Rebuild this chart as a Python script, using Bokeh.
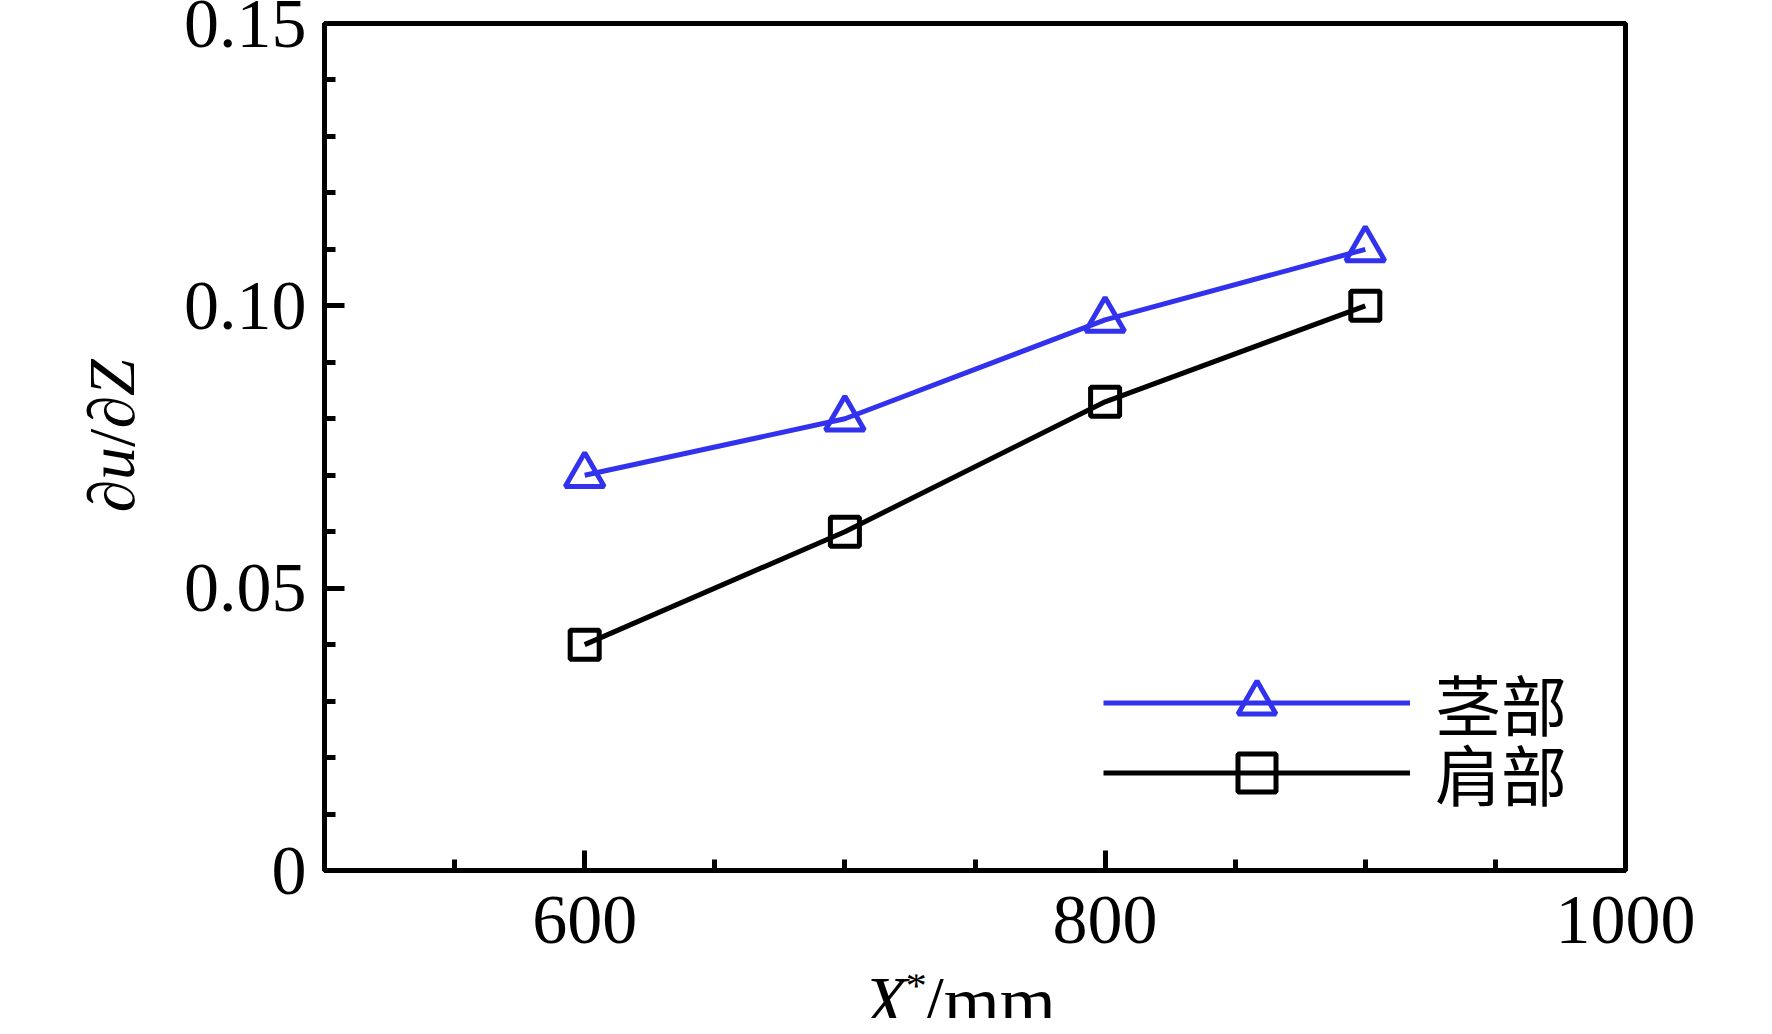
import math
from bokeh.plotting import figure
from bokeh.layouts import row, column
from bokeh.models import Range1d, FixedTicker, Legend, LegendItem
from bokeh.core.properties import value
from bokeh.embed import file_html
from bokeh.resources import INLINE

# data
x_pos = [600, 700, 800, 900]
stem = [0.070, 0.080, 0.0975, 0.110]      # 茎部
shoulder = [0.040, 0.060, 0.083, 0.100]   # 肩部
x_major = [600, 800, 1000]
x_minor = [550, 600, 650, 700, 750, 800, 850, 900, 950]
y_major = [0, 0.05, 0.10, 0.15]
y_minor = [0.01 * i for i in range(0, 16)]
y_labels = {0: "0", 0.05: "0.05", 0.1: "0.10", 0.15: "0.15"}
series_names = ["茎部", "肩部"]

BLUE = "#3232EE"
SERIF = "Liberation Serif"
CJK = "Noto Sans CJK SC"

TOTAL_H = 1018
YT_W = 180            # left strip holding the y title
MAIN_W = 1576
MAIN_H = 974
XT_H = TOTAL_H - MAIN_H

p = figure(width=MAIN_W, height=MAIN_H, output_backend="svg", toolbar_location=None,
           x_range=Range1d(500, 1000), y_range=Range1d(0, 0.15),
           min_border_left=144, min_border_right=131, min_border_top=23, min_border_bottom=104)
p.xgrid.visible = False
p.ygrid.visible = False
p.outline_line_color = "black"
p.outline_line_width = 5
p.background_fill_color = "white"
p.border_fill_color = "white"

for ax in (p.xaxis[0], p.yaxis[0]):
    ax.axis_line_width = 5
    ax.axis_line_color = "black"
    ax.major_tick_in = 20
    ax.major_tick_out = 0
    ax.minor_tick_in = 11
    ax.minor_tick_out = 0
    ax.major_tick_line_width = 5
    ax.minor_tick_line_width = 5
    ax.major_tick_line_color = "black"
    ax.minor_tick_line_color = "black"
    ax.major_label_text_font = SERIF
    ax.major_label_text_font_size = "70px"
    ax.major_label_text_color = "black"

p.xaxis[0].ticker = FixedTicker(ticks=x_major, minor_ticks=x_minor)
p.yaxis[0].ticker = FixedTicker(ticks=y_major, minor_ticks=y_minor)
p.yaxis[0].major_label_overrides = y_labels
p.xaxis[0].major_label_standoff = 26
p.yaxis[0].major_label_standoff = 18

l1 = p.line(x_pos, stem, line_color=BLUE, line_width=5)
s1 = p.scatter(x_pos, stem, marker="triangle", size=39, line_color=BLUE, line_width=5, fill_color=None)
l2 = p.line(x_pos, shoulder, line_color="black", line_width=5)
s2 = p.scatter(x_pos, shoulder, marker="square", size=29, line_color="black", line_width=5, fill_color=None)

common = dict(orientation="vertical", glyph_width=307, glyph_height=95, label_standoff=25,
              spacing=0, padding=0, margin=0, border_line_alpha=0, background_fill_alpha=0,
              label_text_font=CJK, label_text_font_size="66px", label_text_color="black",
              label_height=95)
leg1 = Legend(items=[LegendItem(label=series_names[0], renderers=[l1, s1])], location=(779, 120), **common)
leg2 = Legend(items=[LegendItem(label=series_names[1], renderers=[l2, s2])], location=(779, 50), **common)
p.add_layout(leg1)
p.add_layout(leg2)


def strip(w, h):
    f = figure(width=w, height=h, output_backend="svg", toolbar_location=None,
               x_range=Range1d(0, w), y_range=Range1d(0, h), min_border=0,
               x_axis_location=None, y_axis_location=None)
    f.xgrid.visible = False
    f.ygrid.visible = False
    f.outline_line_color = None
    f.background_fill_color = "white"
    f.border_fill_color = "white"
    return f


def piece(f, t, x, y, style="normal", size="66px", angle=0.0):
    f.text(x=[x], y=[y], text=[t], text_font=value(SERIF), text_font_style=style,
           text_font_size=size, text_align="left", text_baseline="alphabetic",
           angle=angle, text_color="black")


# x title  "X*/mm"
xt = strip(MAIN_W, XT_H)
piece(xt, "X", 653, 17, "italic", "72px")
piece(xt, "*", 704, 33, "normal", "42px")
piece(xt, "/mm", 726, 17, "normal", "72px")

# y title  "∂u/∂Z" (rotated)
yt = strip(YT_W, TOTAL_H)
ypieces = [("∂", "normal", 32.6), ("u", "italic", 33.0), ("/", "normal", 18.3),
           ("∂", "normal", 32.6), ("Z", "italic", 36.7)]
yy = 506
for t, st, w in ypieces:
    piece(yt, t, 111, yy, st, "66px", math.pi / 2)
    yy += w

layout = row(yt, column(p, xt, spacing=0), spacing=0)
open("out.html", "w").write(file_html(layout, INLINE))
